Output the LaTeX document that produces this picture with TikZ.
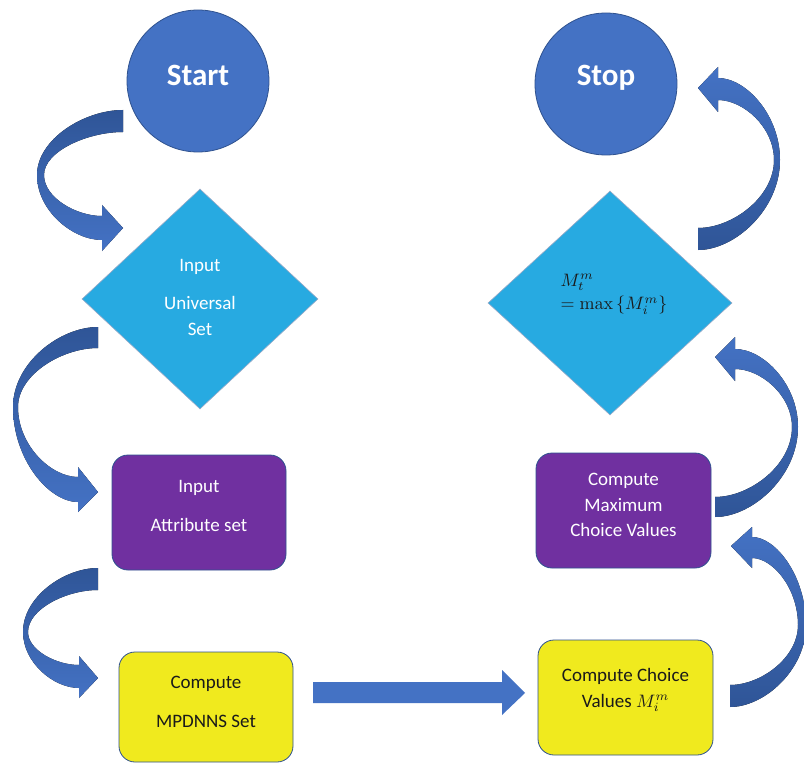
\documentclass[tikz,border=0pt]{standalone}
\usepackage[no-math]{fontspec}
\setmainfont{Carlito}
\usetikzlibrary{shapes.geometric}
\definecolor{cblue}{HTML}{4472C4}
\definecolor{cblued}{HTML}{2F5597}
\definecolor{cedge}{HTML}{2F528F}
\definecolor{ccyan}{HTML}{27AAE1}
\definecolor{cpurp}{HTML}{7030A0}
\definecolor{cyell}{HTML}{F0EA1E}
\definecolor{ctext}{HTML}{1A1A1A}
\newcommand\mymath[1]{\scalebox{1.8}{\fontsize{10}{12}\selectfont$#1$}}
\begin{document}
\begin{tikzpicture}[x=1pt,y=-1pt,
  term/.style={circle,fill=cblue,draw=cedge,line width=0.8pt,minimum size=142pt,inner sep=0pt},
  dia/.style={diamond,fill=ccyan,draw=cedge!50,line width=0.6pt,inner sep=0pt},
  box/.style={rectangle,rounded corners=16pt,draw=cedge,line width=0.8pt,inner sep=0pt},
  txt/.style={font=\fontsize{19}{25.5}\selectfont,align=center,inner sep=0pt},
  big/.style={font=\fontsize{31}{36}\selectfont\bfseries,text=white,inner sep=0pt},
  larrow/.style={top color=cblued,bottom color=cblue},
  rarrow/.style={top color=cblue,bottom color=cblued},
]
\clip (0,0) rectangle (804,765);
\fill[white] (0,0) rectangle (804,765);

% terminals
\node[term] (start) at (198,81) {};
\node[big] (starttxt) at (198,75) {Start};
\node[term] (stop) at (606,84) {};
\node[big] (stoptxt) at (606,78) {Stop};

% diamonds
\node[dia,minimum width=236pt,minimum height=220pt] (d1) at (200,299) {};
\node[txt,text=white] (d1t) at (200,297) {Input\\[13pt]Universal\\Set};
\node[dia,minimum width=244pt,minimum height=224pt] (d2) at (610,303) {};
\node[txt,align=left,text=ctext] (d2t) at (614,294) {\mymath{M_t^m}\\[-2pt]\mymath{=\max\,\{M_i^m\}}};

% boxes
\node[box,fill=cpurp,minimum width=174pt,minimum height=115pt] (attr) at (199,512.5) {};
\node[txt,text=white] (attrt) at (199,506) {Input\\[14pt]Attribute set};
\node[box,fill=cyell,minimum width=174pt,minimum height=110pt] (mp) at (206,707) {};
\node[txt,text=ctext] (mpt) at (206,702) {Compute\\[14pt]MPDNNS Set};
\node[box,fill=cpurp,minimum width=175pt,minimum height=115pt] (mx) at (623.5,510.5) {};
\node[txt,text=white] (mxt) at (623.5,505) {Compute\\Maximum\\Choice Values};
\node[box,fill=cyell,minimum width=175pt,minimum height=115pt] (ch) at (625.5,697.5) {};
\node[txt,text=ctext] (cht) at (625.5,690) {Compute Choice\\Values \mymath{M_i^m}};

% curved block arrows (left side)
\fill[larrow] (123,110) .. controls (84.3,110) and (37,139.25) .. (37,175)
  .. controls (37,210.75) and (72.75,240) .. (102,240) -- (102,251) -- (123,228) -- (102,205) -- (102,216)
  .. controls (75.9,216) and (44,197.55) .. (44,175)
  .. controls (44,151.35) and (87.45,132) .. (123,132) -- cycle;
\fill[larrow] (98,327) .. controls (59.75,327) and (13,363) .. (13,407)
  .. controls (13,459.25) and (48.75,502) .. (78,502) -- (78,512) -- (98,492) -- (78,467) -- (78,477)
  .. controls (51,477) and (18,445.5) .. (18,407)
  .. controls (18,374.55) and (62,348) .. (98,348) -- cycle;
\fill[larrow] (98,568) .. controls (64.25,568) and (23,596.8) .. (23,632)
  .. controls (23,662.8) and (53.8,688) .. (79,688) -- (79,698) -- (98,678) -- (79,656) -- (79,665)
  .. controls (56.05,665) and (28,650.15) .. (28,632)
  .. controls (28,608.9) and (66.5,590) .. (98,590) -- cycle;

% straight arrow
\fill[cblue] (313,682) -- (502,682) -- (502,670) -- (525,693) -- (502,715) -- (502,703) -- (313,703) -- cycle;

% curved block arrows (right side)
\fill[rarrow] (730,707) .. controls (764.2,707) and (806,670.1) .. (806,625)
  .. controls (806,576.6) and (776.3,537) .. (752,537) -- (752,527) -- (731,546) -- (752,568) -- (752,558)
  .. controls (772.7,558) and (798,588.15) .. (798,625)
  .. controls (798,658) and (760.6,685) .. (730,685) -- cycle;
\fill[rarrow] (715,517) .. controls (752.35,517) and (798,476.5) .. (798,427)
  .. controls (798,384.1) and (763.35,349) .. (735,349) -- (735,337) -- (715,357) -- (735,381) -- (735,369)
  .. controls (760.65,369) and (792,395.1) .. (792,427)
  .. controls (792,465.5) and (749.65,497) .. (715,497) -- cycle;
\fill[rarrow] (698,250) .. controls (734.9,250) and (780,209.5) .. (780,160)
  .. controls (780,114.9) and (745.9,78) .. (718,78) -- (718,67) -- (698,88) -- (718,112) -- (718,100)
  .. controls (743.2,100) and (774,127) .. (774,160)
  .. controls (774,197.4) and (732.2,228) .. (698,228) -- cycle;
\end{tikzpicture}
\end{document}
